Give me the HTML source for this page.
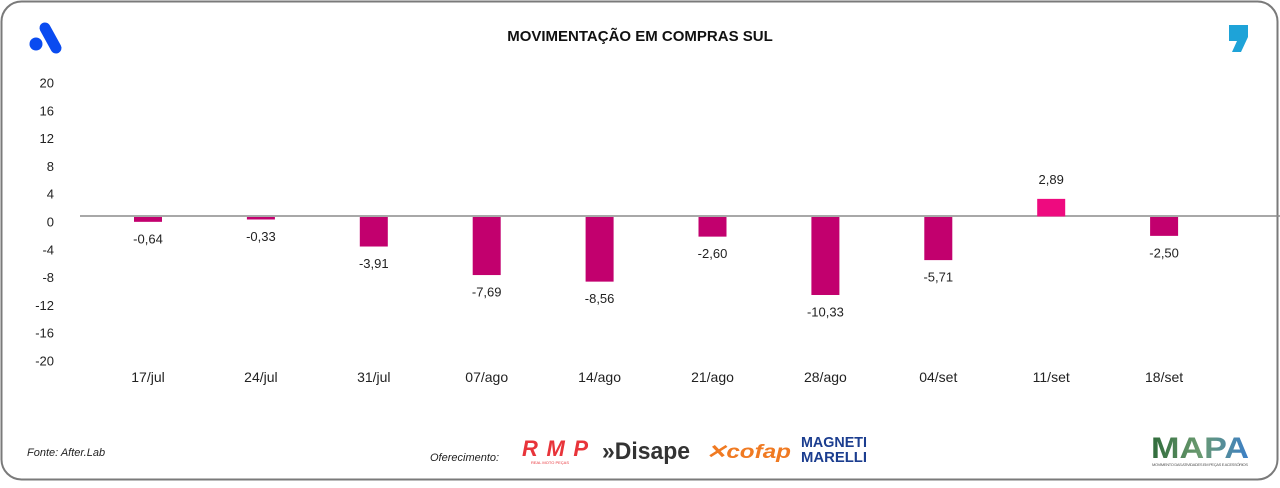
<!DOCTYPE html>
<html><head><meta charset="utf-8">
<style>
html,body{margin:0;padding:0;background:#fff;}
body{width:1280px;height:483px;overflow:hidden;font-family:"Liberation Sans",sans-serif;}
svg text{font-family:"Liberation Sans",sans-serif;}
</style></head>
<body>
<svg width="1280" height="483" viewBox="0 0 1280 483">
  <rect x="1.5" y="1.5" width="1276" height="478" rx="20" fill="#fff" stroke="#7a7a7a" stroke-width="2"/>
  <g>
    <circle cx="36" cy="44" r="6.5" fill="#0a4bf0"/>
    <line x1="45" y1="28" x2="56" y2="48" stroke="#0a4bf0" stroke-width="11" stroke-linecap="round"/>
  </g>
  <g>
    <path d="M1229 25 h19 v12 l-7 15 h-9 l5 -11 h-8 z" fill="#1ea3d8"/>
  </g>
  <text x="640" y="41" text-anchor="middle" font-size="15" font-weight="bold" fill="#111">MOVIMENTAÇÃO EM COMPRAS SUL</text>
  <g id="yaxis"></g>
  <line x1="80" y1="216" x2="1280" y2="216" stroke="#8c8c8c" stroke-width="1.5"/>
  <g id="bars"></g>
  <g id="xaxis"></g>
  <text x="27" y="456" font-size="11" font-style="italic" fill="#222">Fonte: After.Lab</text>
  <text x="430" y="461" font-size="11" font-style="italic" fill="#222">Oferecimento:</text>
  <g>
    <text x="522" y="456" font-size="22" font-weight="bold" font-style="italic" fill="#e8343a" textLength="66">RMP</text>
    <text x="531" y="464" font-size="4" fill="#e8343a">REAL MOTO PEÇAS</text>
  </g>
  <text x="602" y="459" font-size="24" font-weight="bold" fill="#333" textLength="88" lengthAdjust="spacingAndGlyphs">»Disape</text>
  <text x="706" y="458" font-size="19" font-weight="bold" font-style="italic" fill="#f07a22" textLength="85" lengthAdjust="spacingAndGlyphs">✕cofap</text>
  <g fill="#1b3d8f" font-weight="bold">
    <text x="801" y="447" font-size="15" textLength="66" lengthAdjust="spacingAndGlyphs">MAGNETI</text>
    <text x="801" y="462" font-size="15" textLength="66" lengthAdjust="spacingAndGlyphs">MARELLI</text>
  </g>
  <defs><linearGradient id="mg" x1="0" x2="1"><stop offset="0" stop-color="#2f6b3a"/><stop offset="0.5" stop-color="#6a9a70"/><stop offset="1" stop-color="#3c7fc8"/></linearGradient></defs>
  <text x="1151" y="458" font-size="30" font-weight="bold" fill="url(#mg)" textLength="98" lengthAdjust="spacingAndGlyphs">MAPA</text>
  <text x="1152" y="466" font-size="4" fill="#555" textLength="96">MOVIMENTO DAS ATIVIDADES EM PEÇAS E ACESSÓRIOS</text>
</svg>
<script>
const categories = ["17/jul","24/jul","31/jul","07/ago","14/ago","21/ago","28/ago","04/set","11/set","18/set"];
const values = [-0.64,-0.33,-3.91,-7.69,-8.56,-2.60,-10.33,-5.71,2.89,-2.50];
const yTicks = [20,16,12,8,4,0,-4,-8,-12,-16,-20];

const NS = "http://www.w3.org/2000/svg";
const zeroY = 216.5;
const tickY = v => 221.5 - v * 6.94;
const xPos = i => 148 + i * 112.9;
const barY = v => zeroY - v * (v >= 0 ? 6.1 : 7.55);
const fmt = v => v.toFixed(2).replace(".", ",");

const ya = document.getElementById("yaxis");
yTicks.forEach(t => {
  const tx = document.createElementNS(NS, "text");
  tx.setAttribute("x", 54);
  tx.setAttribute("y", tickY(t) + 5);
  tx.setAttribute("text-anchor", "end");
  tx.setAttribute("font-size", "13");
  tx.setAttribute("fill", "#222");
  tx.textContent = t;
  
  
  ya.appendChild(tx);
});

const bg = document.getElementById("bars");
const xa = document.getElementById("xaxis");
values.forEach((v, i) => {
  const cx = xPos(i);
  const h = Math.abs(barY(v) - zeroY);
  const r = document.createElementNS(NS, "rect");
  r.setAttribute("x", cx - 14);
  r.setAttribute("y", v >= 0 ? barY(v) : zeroY + 0.5);
  r.setAttribute("width", 28);
  r.setAttribute("height", h);
  r.setAttribute("fill", v >= 0 ? "#ee0a7f" : "#c2006e");
  
  
  bg.appendChild(r);

  const lb = document.createElementNS(NS, "text");
  lb.setAttribute("x", cx);
  lb.setAttribute("y", v >= 0 ? barY(v) - 15 : barY(v) + 22);
  lb.setAttribute("text-anchor", "middle");
  lb.setAttribute("font-size", "13");
  lb.setAttribute("fill", "#222");
  lb.textContent = fmt(v);
  
  
  bg.appendChild(lb);

  const cl = document.createElementNS(NS, "text");
  cl.setAttribute("x", cx);
  cl.setAttribute("y", 382);
  cl.setAttribute("text-anchor", "middle");
  cl.setAttribute("font-size", "14");
  cl.setAttribute("fill", "#222");
  cl.textContent = categories[i];
  
  
  xa.appendChild(cl);
});
</script>
</body></html>
